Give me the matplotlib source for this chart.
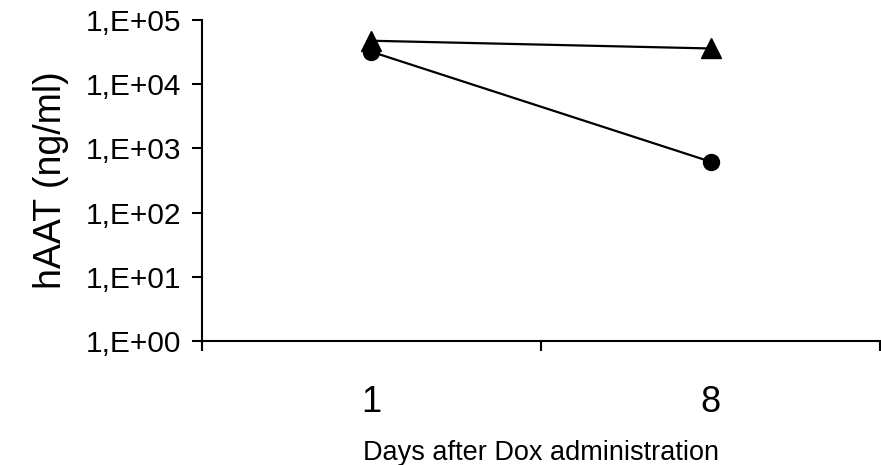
import numpy as np
import matplotlib.pyplot as plt
from matplotlib.ticker import FixedLocator, NullLocator, FuncFormatter

plt.rcParams['font.family'] = ['Liberation Sans', 'DejaVu Sans']

# hAAT serum levels (ng/ml) after Dox administration
days = ['1', '8']
hAAT_triangle = [4.75e4, 3.6e4]
hAAT_circle = [3.2e4, 620]

fig = plt.figure(figsize=(8.81, 4.65), dpi=100)
ax = fig.add_axes([0.229, 0.267, 0.770, 0.690])

x = np.arange(len(days)) + 0.5
ax.plot(x, hAAT_triangle, color='black', lw=1.6, marker='^', ms=14)
ax.plot(x, hAAT_circle, color='black', lw=1.6, marker='o', ms=11.5)

ax.set_yscale('log')
ax.set_ylim(1, 1e5)
ax.set_xlim(0, len(days))
ax.yaxis.set_major_locator(FixedLocator([10.0 ** k for k in range(6)]))
ax.yaxis.set_minor_locator(NullLocator())
ax.yaxis.set_major_formatter(FuncFormatter(lambda v, p: '1,E+%02d' % int(round(np.log10(v)))))

# category boundaries get ticks, category names sit between them
ax.xaxis.set_major_locator(FixedLocator([0, 1, 2]))
ax.xaxis.set_major_formatter(FuncFormatter(lambda v, p: ''))
ax.xaxis.set_minor_locator(FixedLocator(x))
ax.set_xticklabels(days, minor=True)
ax.tick_params(axis='x', which='minor', length=0, labelsize=26, pad=32)
ax.tick_params(axis='x', which='major', length=7, width=1.5, direction='out')
ax.tick_params(axis='y', which='major', length=7, width=1.5, direction='out', labelsize=21.5, pad=8)

for side in ['top', 'right']:
    ax.spines[side].set_visible(False)
for side in ['left', 'bottom']:
    ax.spines[side].set_linewidth(1.5)

ax.set_xlabel('Days after Dox administration', fontsize=19.5, labelpad=14)
ax.set_ylabel('hAAT (ng/ml)', fontsize=27, labelpad=12)

fig.savefig('out.png', dpi=100)
